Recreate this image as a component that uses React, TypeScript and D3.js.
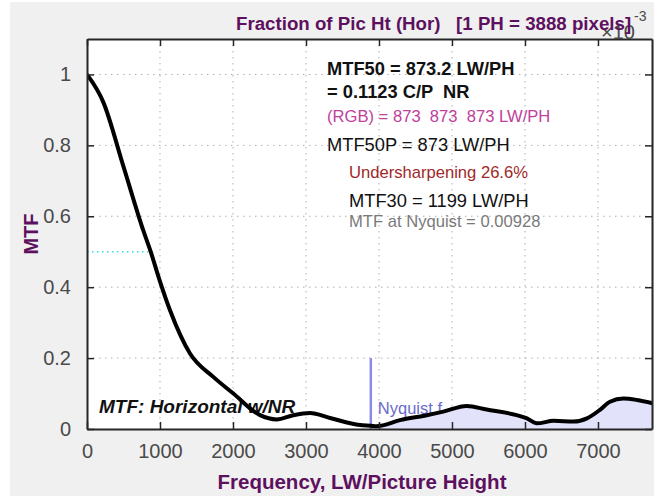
import React, {useEffect, useRef} from 'react'
import * as d3 from 'd3'

// MTF curve (LW/PH vs MTF)
const freqs = [0, 223, 500, 771, 873, 986, 1137, 1411, 1730, 2005, 2370, 2598, 2826, 3055, 3329, 3740, 3888, 3968, 4288, 4653, 4881, 5201, 5475, 5886, 6027, 6164, 6393, 6667, 6849, 7027, 7164, 7347, 7534, 7762];
const mtfValues = [1.0, 0.922, 0.74, 0.56, 0.50, 0.425, 0.335, 0.213, 0.147, 0.10, 0.039, 0.027, 0.039, 0.045, 0.031, 0.011, 0.0093, 0.008, 0.025, 0.039, 0.049, 0.065, 0.055, 0.039, 0.030, 0.016, 0.023, 0.021, 0.030, 0.054, 0.077, 0.086, 0.082, 0.072];

const xTicks = [0, 1000, 2000, 3000, 4000, 5000, 6000, 7000];
const yTicks = [0, 0.2, 0.4, 0.6, 0.8, 1];

const nyquist = 3888;
const mtf50 = 873;

const annotations = [
    {text: "MTF50 = 873.2 LW/PH", weight: "bold", color: "#111", size: 18.3, indent: 0, y: 75},
    {text: "= 0.1123 C/P  NR", weight: "bold", color: "#111", size: 18.3, indent: 0, y: 98},
    {text: "(RGB) = 873  873  873 LW/PH", weight: "normal", color: "#c0409c", size: 16.6, indent: 0, y: 122},
    {text: "MTF50P = 873 LW/PH", weight: "normal", color: "#111", size: 18.3, indent: 0, y: 151},
    {text: "Undersharpening 26.6%", weight: "normal", color: "#a02828", size: 16.6, indent: 22, y: 178},
    {text: "MTF30 = 1199 LW/PH", weight: "normal", color: "#111", size: 18.3, indent: 22, y: 207},
    {text: "MTF at Nyquist = 0.00928", weight: "normal", color: "#7a7a7a", size: 16.6, indent: 22, y: 227},
];

const width = 654;
const height = 496;
const margin = ({top: 39, right: 2, bottom: 67, left: 87});
const font = '"Liberation Sans", Arial, sans-serif';
const purple = "#5e1060";
const axisColor = "#262626";

export default function App() {
    const ref = useRef(null);

    useEffect(() => {
        document.body.style.margin = "0";
        const data = freqs.map((f, i) => ({f, m: mtfValues[i]}));

        const x = d3.scaleLinear()
            .domain([0, 7740])
            .range([margin.left, width - margin.right]);

        const y = d3.scaleLinear()
            .domain([0, 1.1])
            .range([height - margin.bottom, margin.top]);

        const svg = d3.select(ref.current);
        svg.selectAll("*").remove();
        svg.attr("width", width).attr("height", height)
            .attr("font-family", font);

        svg.append("rect").attr("width", width).attr("height", height).attr("fill", "#fff");
        svg.append("rect").attr("x", 10).attr("y", 2).attr("width", width - 10).attr("height", height - 2).attr("fill", "#f0f0f0");

        const [x0, x1] = x.range();
        const [y0, y1] = y.range();

        svg.append("defs").append("clipPath").attr("id", "plot-clip")
            .append("rect").attr("x", x0).attr("y", y1).attr("width", x1 - x0).attr("height", y0 - y1);

        svg.append("rect")
            .attr("x", x0).attr("y", y1)
            .attr("width", x1 - x0).attr("height", y0 - y1)
            .attr("fill", "#fff");

        // dotted grid
        const grid = svg.append("g")
            .attr("stroke", "#b0b0b0")
            .attr("stroke-width", 1)
            .attr("stroke-dasharray", "1.5,4.5");
        grid.selectAll(".vx")
            .data(xTicks.filter(d => d > 0))
            .join("line")
            .attr("x1", d => x(d)).attr("x2", d => x(d))
            .attr("y1", y1).attr("y2", y0);
        grid.selectAll(".hy")
            .data(yTicks.filter(d => d > 0))
            .join("line")
            .attr("class", "hy")
            .attr("x1", x0).attr("x2", x1)
            .attr("y1", d => y(d)).attr("y2", d => y(d));

        const plot = svg.append("g").attr("clip-path", "url(#plot-clip)");

        // shading beyond Nyquist
        const area = d3.area()
            .x(d => x(d.f))
            .y0(y(0))
            .y1(d => y(d.m))
            .curve(d3.curveMonotoneX);
        plot.append("path")
            .datum(data.filter(d => d.f >= nyquist))
            .attr("fill", "#e2e2fa")
            .attr("d", area);

        // MTF50 marker
        plot.append("line")
            .attr("x1", x0).attr("x2", x(mtf50))
            .attr("y1", y(0.5)).attr("y2", y(0.5))
            .attr("stroke", "#30e0e0")
            .attr("stroke-width", 1.5)
            .attr("stroke-dasharray", "1.5,3.5");

        // Nyquist marker
        plot.append("line")
            .attr("x1", x(nyquist)).attr("x2", x(nyquist))
            .attr("y1", y(0)).attr("y2", y(0.2))
            .attr("stroke", "#8a8ae6")
            .attr("stroke-width", 2.5);
        plot.append("text")
            .attr("x", x(nyquist) + 7)
            .attr("y", y(0) - 15)
            .attr("font-size", 16.5)
            .attr("fill", "#6a6acc")
            .text("Nyquist f");

        plot.append("text")
            .attr("x", x0 + 12)
            .attr("y", y(0) - 16)
            .attr("font-size", 19)
            .attr("font-weight", "bold")
            .attr("font-style", "italic")
            .attr("fill", "#111")
            .text("MTF: Horizontal w/NR");

        const line = d3.line()
            .x(d => x(d.f))
            .y(d => y(d.m))
            .curve(d3.curveMonotoneX);
        plot.append("path")
            .datum(data)
            .attr("fill", "none")
            .attr("stroke", "#000")
            .attr("stroke-width", 4)
            .attr("stroke-linejoin", "round")
            .attr("d", line);

        // axes box with inward ticks
        const xAxis = g => g
            .attr("transform", `translate(0,${y0})`)
            .call(d3.axisBottom(x).tickValues(xTicks).tickSizeInner(-7).tickSizeOuter(0).tickPadding(15).tickFormat(d3.format("d")));
        const xTop = g => g
            .attr("transform", `translate(0,${y1})`)
            .call(d3.axisTop(x).tickValues(xTicks).tickSizeInner(-7).tickSizeOuter(0).tickFormat(() => ""));
        const yAxis = g => g
            .attr("transform", `translate(${x0},0)`)
            .call(d3.axisLeft(y).tickValues(yTicks).tickSizeInner(-7).tickSizeOuter(0).tickPadding(16).tickFormat(d3.format("~g")));
        const yRight = g => g
            .attr("transform", `translate(${x1},0)`)
            .call(d3.axisRight(y).tickValues(yTicks).tickSizeInner(-7).tickSizeOuter(0).tickFormat(() => ""));

        [xAxis, xTop, yAxis, yRight].forEach(ax => {
            svg.append("g")
                .call(ax)
                .call(g => g.select(".domain").attr("stroke", axisColor).attr("stroke-width", 2))
                .call(g => g.selectAll(".tick line").attr("stroke", axisColor).attr("stroke-width", 1.5))
                .call(g => g.selectAll(".tick text")
                    .attr("fill", "#4a4a4a")
                    .attr("font-size", 20)
                    .attr("font-family", font));
        });

        // annotations
        svg.append("g")
            .selectAll("text")
            .data(annotations)
            .join("text")
            .attr("x", d => 327 + d.indent)
            .attr("y", d => d.y)
            .attr("font-size", d => d.size)
            .attr("font-weight", d => d.weight)
            .attr("fill", d => d.color)
            .style("white-space", "pre")
            .text(d => d.text);

        // exponent label, partly under the title
        svg.append("text")
            .attr("x", 601)
            .attr("y", 39)
            .attr("font-size", 20)
            .attr("fill", "#4a4a4a")
            .text("\u00d710");
        svg.append("text")
            .attr("x", 634)
            .attr("y", 21)
            .attr("font-size", 14)
            .attr("fill", "#4a4a4a")
            .text("-3");

        svg.append("text")
            .attr("x", 236)
            .attr("y", 30)
            .attr("font-size", 18.7)
            .attr("font-weight", "bold")
            .attr("fill", purple)
            .style("white-space", "pre")
            .text("Fraction of Pic Ht (Hor)   [1 PH = 3888 pixels]");

        svg.append("text")
            .attr("x", 362)
            .attr("y", 489)
            .attr("text-anchor", "middle")
            .attr("font-size", 20.5)
            .attr("font-weight", "bold")
            .attr("fill", purple)
            .text("Frequency, LW/Picture Height");

        svg.append("text")
            .attr("transform", `translate(38,${y(0.55)}) rotate(-90)`)
            .attr("text-anchor", "middle")
            .attr("font-size", 20)
            .attr("font-weight", "bold")
            .attr("fill", purple)
            .text("MTF");
    }, []);

    return <svg ref={ref} style={{position: "absolute", left: 0, top: 0, display: "block"}}/>;
}
